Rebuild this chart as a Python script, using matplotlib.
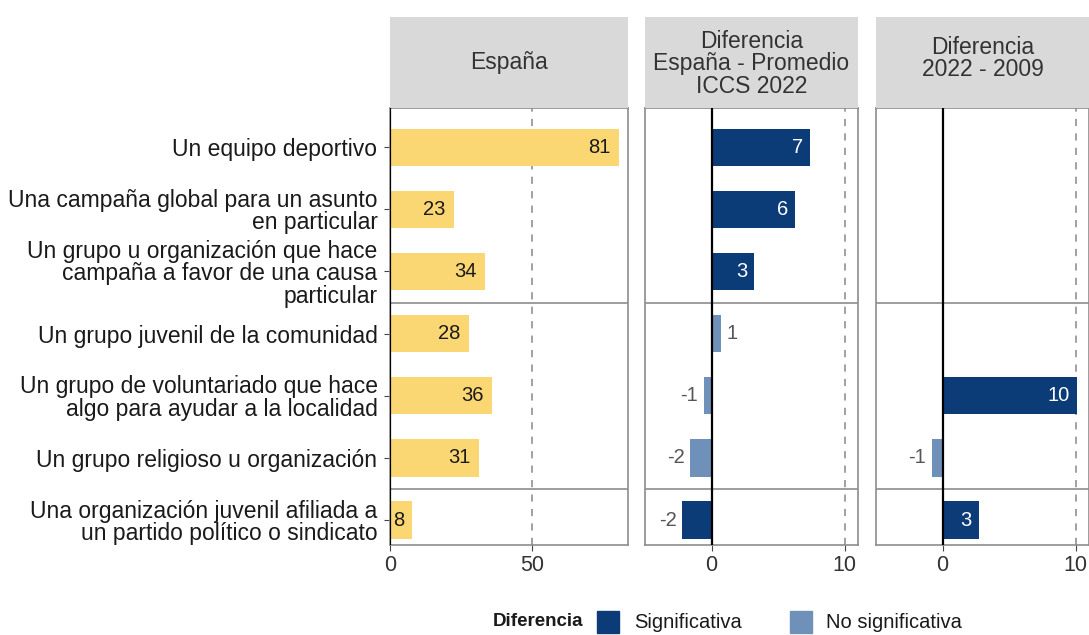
import numpy as np
import matplotlib
matplotlib.use("Agg")
import matplotlib.pyplot as plt
from matplotlib.patches import Rectangle

plt.rcParams['font.family'] = ['Liberation Sans', 'DejaVu Sans']

# ---- data ----
categories = [
    "Un equipo deportivo",
    "Una campaña global para un asunto\nen particular",
    "Un grupo u organización que hace\ncampaña a favor de una causa\nparticular",
    "Un grupo juvenil de la comunidad",
    "Un grupo de voluntariado que hace\nalgo para ayudar a la localidad",
    "Un grupo religioso u organización",
    "Una organización juvenil afiliada a\nun partido político o sindicato",
]
group_sizes = [3, 3, 1]

espana = [80.6, 22.6, 33.6, 27.8, 35.9, 31.3, 7.9]

dif_iccs = [7.4, 6.3, 3.2, 0.7, -0.6, -1.6, -2.2]
sig_iccs = [True, True, True, False, False, False, True]

dif_2009 = [np.nan, np.nan, np.nan, np.nan, 10.1, -0.8, 2.7]
sig_2009 = [False, False, False, False, True, False, True]

strip_titles = ["España", "Diferencia\nEspaña - Promedio\nICCS 2022", "Diferencia\n2022 - 2009"]
legend_title = "Diferencia"
legend_labels = ["Significativa", "No significativa"]

# ---- style ----
YELLOW = "#FBD774"
SIG = "#0C3C78"
NOSIG = "#6E90B9"
STRIP = "#D9D9D9"
BORDER = "#8C8C8C"
REF = "#9A9A9A"
TXT = "#1A1A1A"
TICKTXT = "#333333"

W, H = 1089, 635
fig = plt.figure(figsize=(W / 100, H / 100), dpi=100)


def fx(px):
    return px / W


def fy(py):
    return 1 - py / H


panel_top, panel_bot = 108, 545
strip_top = 17
cols = [(390, 628), (645, 858), (876, 1089)]
strip_text_y = [0.505, 0.484, 0.544]
xlims = [(0, 83.8), (-5.0, 11.0), (-5.0, 11.0)]
refs = [50, 10, 10]
xticks = [[0, 50], [0, 10], [0, 10]]

n = len(categories)
ypos = np.arange(n)
ylim = (n - 1 + 0.40, -0.63)
bar_h = 0.6

axes = []
for i, (x0, x1) in enumerate(cols):
    ax = fig.add_axes([fx(x0), fy(panel_bot), fx(x1 - x0), (panel_bot - panel_top) / H])
    ax.set_xlim(*xlims[i])
    ax.set_ylim(*ylim)
    for s in ax.spines.values():
        s.set_color(BORDER)
        s.set_linewidth(1.2)
    ax.axvline(refs[i], color=REF, lw=1.3, ls=(0, (4, 4)), zorder=1)
    # separators between row groups
    b = 0
    for g in group_sizes[:-1]:
        b += g
        ax.axhline(b - 0.5, color=BORDER, lw=1.2, zorder=1)
    ax.set_xticks(xticks[i])
    ax.tick_params(axis='x', length=4, color="#444444", labelsize=15.5,
                   labelcolor=TICKTXT, pad=3)
    if i == 0:
        ax.set_yticks(ypos)
        ax.set_yticklabels(categories, fontsize=16.5, color=TXT, linespacing=0.98)
        ax.tick_params(axis='y', length=4, color="#444444", pad=5)
    else:
        ax.set_yticks([])
    # strip
    sax = fig.add_axes([fx(x0), fy(panel_top), fx(x1 - x0), (panel_top - strip_top) / H])
    sax.set_xticks([]); sax.set_yticks([])
    sax.set_facecolor(STRIP)
    for s in sax.spines.values():
        s.set_visible(False)
    sax.text(0.5, strip_text_y[i], strip_titles[i], ha='center', va='center', fontsize=16.5,
             color=TICKTXT, linespacing=0.98, transform=sax.transAxes)
    axes.append(ax)

# España panel
ax = axes[0]
ax.barh(ypos, espana, height=bar_h, color=YELLOW, zorder=2)
ax.axvline(0, color="black", lw=1.6, zorder=3)
for y, v in zip(ypos, espana):
    ax.annotate(f"{round(v)}", (v, y), xytext=(-6, 0), textcoords='offset points',
                ha='right', va='center', fontsize=14.5, color=TXT, zorder=4)


def diff_panel(ax, vals, sig):
    for y, v, s in zip(ypos, vals, sig):
        if np.isnan(v):
            continue
        ax.barh(y, v, height=bar_h, color=SIG if s else NOSIG, zorder=2)
        lab = f"{round(v)}"
        inside = s and abs(v) >= 2.5
        sign = 1 if v >= 0 else -1
        if inside:
            ax.annotate(lab, (v, y), xytext=(-5 * sign, 0), textcoords='offset points',
                        ha='right' if sign > 0 else 'left', va='center',
                        fontsize=14.5, color='white', zorder=4)
        else:
            ax.annotate(lab, (v, y), xytext=(4 * sign, 0), textcoords='offset points',
                        ha='left' if sign > 0 else 'right', va='center',
                        fontsize=14.5, color="#555555", zorder=4)
    ax.axvline(0, color="black", lw=1.6, zorder=3)


diff_panel(axes[1], dif_iccs, sig_iccs)
diff_panel(axes[2], dif_2009, sig_2009)

# legend along the bottom
ly = 622
fig.text(fx(583), fy(ly), legend_title, ha='right', va='center', fontsize=13.5,
         fontweight='bold', color=TXT)
key = 22
for kx, tx, col, lab in [(597, 634, SIG, legend_labels[0]), (790, 826, NOSIG, legend_labels[1])]:
    fig.patches.append(Rectangle((fx(kx), fy(ly + key / 2)), fx(key), key / H,
                                 transform=fig.transFigure, color=col))
    fig.text(fx(tx), fy(ly), lab, ha='left', va='center', fontsize=14.5, color=TXT)

fig.savefig("out.png", dpi=100, facecolor="white")
